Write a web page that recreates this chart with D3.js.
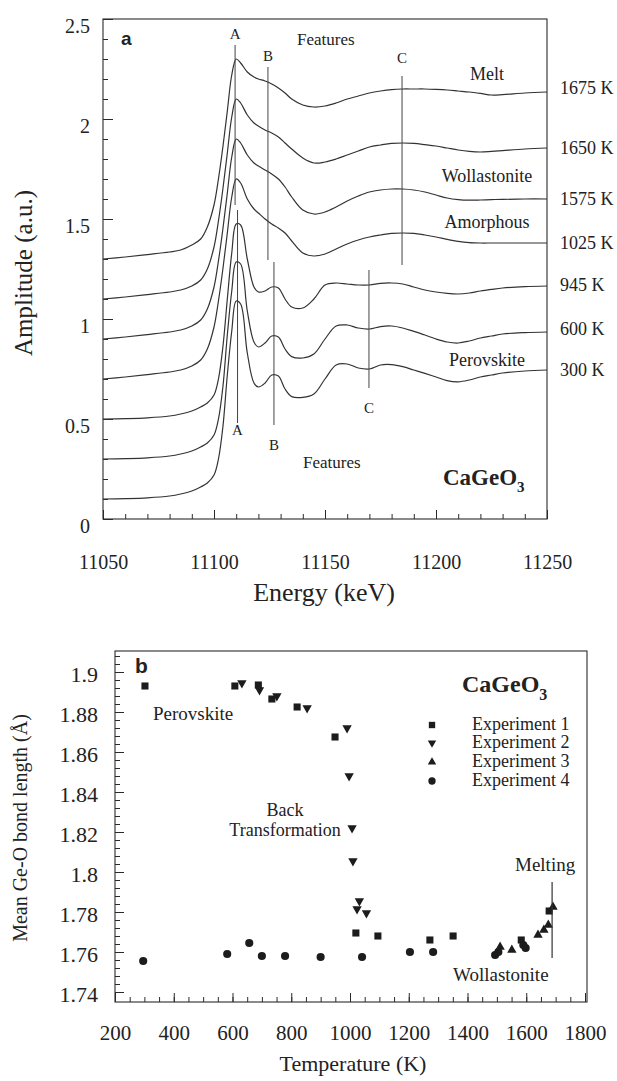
<!DOCTYPE html>
<html>
<head>
<meta charset="utf-8">
<script src="https://cdn.jsdelivr.net/npm/d3@7"></script>
<style>
  html, body { margin: 0; padding: 0; background: #fff; }
  svg { display: block; }
  text { font-family: "Liberation Serif", "DejaVu Serif", serif; fill: #222; }
</style>
</head>
<body>
<svg id="chart" width="617" height="1081"></svg>
<script>
// ---------- Panel a: XANES spectra of CaGeO3 (offset stack) ----------
const energy = [11050, 11060, 11070, 11080, 11085, 11090, 11094, 11097, 11100, 11102, 11104, 11106, 11108, 11110, 11112, 11115, 11118, 11120, 11123, 11126, 11129, 11132, 11135, 11140, 11145, 11150, 11155, 11160, 11165, 11170, 11175, 11180, 11185, 11190, 11195, 11200, 11205, 11210, 11215, 11220, 11225, 11230, 11240, 11250];

const amp1675 = [1.30, 1.31, 1.322, 1.335, 1.345, 1.37, 1.40, 1.46, 1.57, 1.70, 1.86, 2.04, 2.22, 2.30, 2.28, 2.235, 2.21, 2.20, 2.19, 2.175, 2.155, 2.13, 2.10, 2.07, 2.06, 2.065, 2.08, 2.10, 2.115, 2.13, 2.14, 2.147, 2.15, 2.15, 2.15, 2.148, 2.145, 2.14, 2.135, 2.128, 2.12, 2.122, 2.13, 2.135];
const amp1650 = [1.10, 1.11, 1.122, 1.135, 1.145, 1.165, 1.195, 1.25, 1.36, 1.49, 1.65, 1.83, 2.01, 2.10, 2.08, 2.02, 1.98, 1.965, 1.945, 1.93, 1.91, 1.88, 1.85, 1.805, 1.78, 1.785, 1.80, 1.82, 1.84, 1.86, 1.87, 1.878, 1.88, 1.878, 1.872, 1.865, 1.855, 1.845, 1.838, 1.835, 1.838, 1.842, 1.85, 1.855];
const amp1575 = [0.90, 0.91, 0.922, 0.935, 0.945, 0.965, 0.995, 1.05, 1.16, 1.29, 1.45, 1.63, 1.81, 1.90, 1.88, 1.82, 1.78, 1.765, 1.745, 1.725, 1.70, 1.66, 1.61, 1.545, 1.525, 1.535, 1.56, 1.59, 1.615, 1.635, 1.645, 1.65, 1.65, 1.645, 1.635, 1.62, 1.605, 1.597, 1.594, 1.595, 1.597, 1.598, 1.60, 1.60];
const amp1025 = [0.70, 0.71, 0.722, 0.735, 0.745, 0.765, 0.795, 0.85, 0.96, 1.09, 1.25, 1.43, 1.61, 1.70, 1.68, 1.60, 1.55, 1.53, 1.50, 1.475, 1.455, 1.43, 1.39, 1.33, 1.315, 1.325, 1.35, 1.375, 1.395, 1.41, 1.42, 1.428, 1.43, 1.428, 1.42, 1.41, 1.398, 1.388, 1.382, 1.38, 1.38, 1.38, 1.38, 1.38];
const amp945 = [0.50, 0.502, 0.506, 0.515, 0.525, 0.54, 0.56, 0.58, 0.62, 0.70, 0.86, 1.10, 1.33, 1.475, 1.47, 1.30, 1.16, 1.135, 1.14, 1.16, 1.155, 1.10, 1.06, 1.055, 1.10, 1.17, 1.18, 1.175, 1.17, 1.17, 1.178, 1.18, 1.175, 1.16, 1.145, 1.135, 1.128, 1.125, 1.13, 1.14, 1.148, 1.155, 1.162, 1.165];
const amp600 = [0.30, 0.302, 0.306, 0.315, 0.325, 0.34, 0.36, 0.38, 0.42, 0.50, 0.66, 0.92, 1.14, 1.285, 1.275, 1.04, 0.885, 0.86, 0.88, 0.915, 0.91, 0.85, 0.812, 0.805, 0.825, 0.90, 0.965, 0.97, 0.955, 0.95, 0.962, 0.965, 0.955, 0.938, 0.92, 0.90, 0.885, 0.88, 0.89, 0.905, 0.915, 0.925, 0.932, 0.935];
const amp300 = [0.10, 0.102, 0.106, 0.115, 0.125, 0.14, 0.16, 0.18, 0.22, 0.30, 0.46, 0.72, 0.94, 1.09, 1.075, 0.83, 0.68, 0.66, 0.68, 0.72, 0.715, 0.65, 0.612, 0.608, 0.625, 0.70, 0.77, 0.775, 0.755, 0.75, 0.77, 0.772, 0.762, 0.745, 0.728, 0.71, 0.692, 0.686, 0.695, 0.71, 0.72, 0.73, 0.74, 0.745];

const spectraTemps = ["1675 K", "1650 K", "1575 K", "1025 K", "945 K", "600 K", "300 K"];
const spectra = [amp1675, amp1650, amp1575, amp1025, amp945, amp600, amp300];

// feature markers: label, energy, amplitude range of the guide line
const featureNames  = ["A", "B", "C", "A", "B", "C"];
const featureEnergy = [11109.5, 11124.3, 11184.7, 11110.6, 11127, 11169.8];
const featureTop    = [2.37, 2.26, 2.215, 1.545, 1.285, 1.245];
const featureBottom = [1.57, 1.295, 1.27, 0.48, 0.47, 0.655];

const energyTicks = [11050, 11100, 11150, 11200, 11250];
const ampTicks = [0, 0.5, 1, 1.5, 2, 2.5];

// ---------- Panel b: mean Ge-O bond length vs temperature ----------
const exp1T = [302, 608, 688, 734, 820, 949, 1020, 1095, 1272, 1351, 1583, 1678];
const exp1R = [1.893, 1.893, 1.8935, 1.8865, 1.8825, 1.8675, 1.7695, 1.768, 1.766, 1.768, 1.766, 1.7805];
const exp2T = [632, 692, 751, 854, 990, 997, 1007, 1010, 1032, 1024, 1056];
const exp2R = [1.8945, 1.891, 1.888, 1.882, 1.872, 1.848, 1.822, 1.8055, 1.7855, 1.7815, 1.7795];
const exp3T = [1511, 1551, 1640, 1660, 1675, 1691];
const exp3R = [1.7625, 1.761, 1.7685, 1.771, 1.7735, 1.7825];
const exp4T = [296, 582, 657, 700, 779, 900, 1041, 1204, 1283, 1494, 1505, 1590, 1598];
const exp4R = [1.7555, 1.759, 1.7645, 1.758, 1.758, 1.7575, 1.7575, 1.76, 1.76, 1.7585, 1.760, 1.7635, 1.762];
const expNames = ["Experiment 1", "Experiment 2", "Experiment 3", "Experiment 4"];
const tempTicks = [200, 400, 600, 800, 1000, 1200, 1400, 1600, 1800];
const bondTicks = [1.74, 1.76, 1.78, 1.8, 1.82, 1.84, 1.86, 1.88, 1.9];
const meltingT = 1688;

const svg = d3.select("#chart");
const ink = "#2a2a2a";
const serif = "Liberation Serif, DejaVu Serif, serif";

// ======================= Panel a =======================
const xA = d3.scaleLinear().domain([11050, 11250]).range([103, 547]);
const yA = d3.scaleLinear().domain([0, 2.5]).range([519, 19]);
const gA = svg.append("g");

// frame
gA.append("rect").attr("x", 103).attr("y", 19).attr("width", 444).attr("height", 500)
  .attr("fill", "none").attr("stroke", ink).attr("stroke-width", 1.1);

// minor ticks
gA.append("g").attr("transform", "translate(103,0)")
  .call(d3.axisLeft(yA).tickValues(d3.range(0, 2.51, 0.1)).tickSize(-5).tickSizeOuter(0).tickFormat(""))
  .call(g => g.select(".domain").remove());
gA.append("g").attr("transform", "translate(0,519)")
  .call(d3.axisBottom(xA).tickValues(d3.range(11050, 11251, 10)).tickSize(-5).tickSizeOuter(0).tickFormat(""))
  .call(g => g.select(".domain").remove());
// major ticks with labels
gA.append("g").attr("transform", "translate(103,0)")
  .call(d3.axisLeft(yA).tickValues(ampTicks).tickSize(-10).tickSizeOuter(0).tickPadding(13).tickFormat(d3.format("")))
  .call(g => g.select(".domain").remove())
  .call(g => g.selectAll("text").attr("y", 7).style("font-size", "20px").style("font-family", serif).attr("fill", "#222"));
gA.append("g").attr("transform", "translate(0,519)")
  .call(d3.axisBottom(xA).tickValues(energyTicks).tickSize(-9).tickSizeOuter(0).tickFormat(d3.format("d")))
  .call(g => g.select(".domain").remove())
  .call(g => g.selectAll("text").attr("y", 50).attr("dy", 0).style("font-size", "20px").style("font-family", serif).attr("fill", "#222"));
gA.selectAll(".tick line").attr("stroke", ink);

// spectra
const lineA = d3.line().x((d, i) => xA(energy[i])).y(d => yA(d)).curve(d3.curveCatmullRom.alpha(0.5));
gA.append("g").selectAll("path").data(spectra).join("path")
  .attr("d", lineA).attr("fill", "none").attr("stroke", "#333").attr("stroke-width", 1.2);

// feature guide lines
gA.append("g").selectAll("line").data(featureEnergy).join("line")
  .attr("x1", d => xA(d)).attr("x2", d => xA(d))
  .attr("y1", (d, i) => yA(featureTop[i])).attr("y2", (d, i) => yA(featureBottom[i]))
  .attr("stroke", "#444").attr("stroke-width", 1);
const featureLabelY = [39, 61, 63, 435, 450, 413];
gA.append("g").selectAll("text").data(featureNames).join("text")
  .attr("x", (d, i) => xA(featureEnergy[i])).attr("y", (d, i) => featureLabelY[i])
  .attr("text-anchor", "middle").style("font-size", "15px").text(d => d);

// temperature labels at right end of each spectrum
const tempLabelY = [94, 154, 205, 249, 291, 335, 376];
gA.append("g").selectAll("text").data(spectraTemps).join("text")
  .attr("x", 560).attr("y", (d, i) => tempLabelY[i]).style("font-size", "18px").text(d => d);

// annotations
gA.append("text").attr("x", 121).attr("y", 45).text("a")
  .style("font-family", "Liberation Sans, Arial, sans-serif").style("font-weight", "bold").style("font-size", "19px");
gA.append("text").attr("x", 297).attr("y", 45).text("Features").style("font-size", "17px");
gA.append("text").attr("x", 303).attr("y", 468).text("Features").style("font-size", "17px");
[["Melt", 80], ["Wollastonite", 182], ["Amorphous", 228], ["Perovskite", 366]].forEach(([t, y]) => {
  gA.append("text").attr("x", 487).attr("y", y).attr("text-anchor", "middle").style("font-size", "18px").text(t);
});
const fA = gA.append("text").attr("x", 443).attr("y", 485).style("font-weight", "bold").style("font-size", "23px");
fA.append("tspan").text("CaGeO");
fA.append("tspan").attr("dy", 7).style("font-size", "15px").text("3");

// axis titles
gA.append("text").attr("transform", "translate(32,273) rotate(-90)").attr("text-anchor", "middle")
  .style("font-size", "25px").text("Amplitude (a.u.)");
gA.append("text").attr("x", 324).attr("y", 601).attr("text-anchor", "middle")
  .style("font-size", "26px").text("Energy (keV)");

// ======================= Panel b =======================
const xB = d3.scaleLinear().domain([200, 1800]).range([115, 585]);
const yB = d3.scaleLinear().domain([1.74, 1.9]).range([992, 672]);
const gB = svg.append("g");

gB.append("rect").attr("x", 115).attr("y", 651).attr("width", 472).attr("height", 351)
  .attr("fill", "none").attr("stroke", ink).attr("stroke-width", 1.1);

gB.append("g").attr("transform", "translate(115,0)")
  .call(d3.axisLeft(yB).tickValues(d3.range(1.74, 1.9101, 0.004)).tickSize(-5).tickSizeOuter(0).tickFormat(""))
  .call(g => g.select(".domain").remove());
gB.append("g").attr("transform", "translate(0,1002)")
  .call(d3.axisBottom(xB).tickValues(d3.range(200, 1801, 50)).tickSize(-5).tickSizeOuter(0).tickFormat(""))
  .call(g => g.select(".domain").remove());
gB.append("g").attr("transform", "translate(115,0)")
  .call(d3.axisLeft(yB).tickValues(bondTicks).tickSize(-9).tickSizeOuter(0).tickPadding(17).tickFormat(d3.format("")))
  .call(g => g.select(".domain").remove())
  .call(g => g.selectAll("text").attr("y", 2).style("font-size", "22px").style("font-family", serif).attr("fill", "#222"));
gB.append("g").attr("transform", "translate(0,1002)")
  .call(d3.axisBottom(xB).tickValues(tempTicks).tickSize(-9).tickSizeOuter(0).tickFormat(d3.format("d")))
  .call(g => g.select(".domain").remove())
  .call(g => g.selectAll("text").attr("y", 38).attr("dy", 0).style("font-size", "21px").style("font-family", serif).attr("fill", "#222"));
gB.selectAll(".tick line").attr("stroke", ink);

// markers
const sq = d3.symbol(d3.symbolSquare, 50)();
const tri = d3.symbol(d3.symbolTriangle, 38)();
const circ = d3.symbol(d3.symbolCircle, 52)();
const series = [
  { T: exp1T, R: exp1R, path: sq, rot: 0 },
  { T: exp2T, R: exp2R, path: tri, rot: 180 },
  { T: exp3T, R: exp3R, path: tri, rot: 0 },
  { T: exp4T, R: exp4R, path: circ, rot: 0 }
];
series.forEach(s => {
  gB.append("g").selectAll("path").data(s.T).join("path")
    .attr("d", s.path).attr("fill", "#1c1c1c")
    .attr("transform", (d, i) => `translate(${xB(d)},${yB(s.R[i])}) rotate(${s.rot})`);
});

// melting guide
gB.append("line").attr("x1", xB(meltingT)).attr("x2", xB(meltingT)).attr("y1", 882).attr("y2", 958)
  .attr("stroke", "#333").attr("stroke-width", 1.2);

// legend
const legY = [725, 743, 762, 781];
const legG = gB.append("g");
series.forEach((s, i) => {
  legG.append("path").attr("d", s.path).attr("fill", "#1c1c1c")
    .attr("transform", `translate(432,${legY[i]}) rotate(${s.rot}) scale(0.9)`);
  legG.append("text").attr("x", 472).attr("y", legY[i] + 5).style("font-size", "18px").text(expNames[i]);
});

gB.append("text").attr("x", 135).attr("y", 673).text("b")
  .style("font-family", "Liberation Sans, Arial, sans-serif").style("font-weight", "bold").style("font-size", "21px");
const fB = gB.append("text").attr("x", 462).attr("y", 692).style("font-weight", "bold").style("font-size", "24px");
fB.append("tspan").text("CaGeO");
fB.append("tspan").attr("dy", 8).style("font-size", "16px").text("3");
gB.append("text").attr("x", 153).attr("y", 720).style("font-size", "19px").text("Perovskite");
gB.append("text").attr("x", 285).attr("y", 816).attr("text-anchor", "middle").style("font-size", "18px").text("Back");
gB.append("text").attr("x", 285).attr("y", 836).attr("text-anchor", "middle").style("font-size", "18px").text("Transformation");
gB.append("text").attr("x", 515).attr("y", 871).style("font-size", "19px").text("Melting");
gB.append("text").attr("x", 453).attr("y", 981).style("font-size", "19px").text("Wollastonite");

gB.append("text").attr("transform", "translate(27,828) rotate(-90)").attr("text-anchor", "middle")
  .style("font-size", "20px").text("Mean Ge-O bond length (Å)");
gB.append("text").attr("x", 353).attr("y", 1071).attr("text-anchor", "middle")
  .style("font-size", "22px").text("Temperature (K)");
</script>
</body>
</html>
